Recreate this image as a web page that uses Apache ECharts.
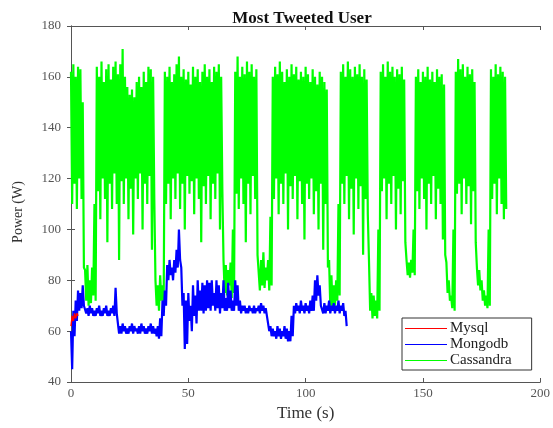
<!DOCTYPE html>
<html>
<head>
    <meta charset="UTF-8">
    <title>Most Tweeted User</title>
    <script src="https://cdn.jsdelivr.net/npm/echarts@6/dist/echarts.min.js"></script>
</head>
<body style="margin:0;background:#fff;">
<div id="main" style="width: 553px;height:428px;"></div>
<script type="text/javascript">
    // values, one high/low pair per second
    var casHigh = [162,165,160,164,163,150,84,86,80,85,110,
        164,160,166,158,163,165,159,164,166,161,165,171,160,156,153,155,152,158,160,156,162,158,164,163,160,
        80,78,82,78,
        162,160,164,158,161,165,168,160,163,159,162,157,164,160,163,158,162,165,160,163,158,164,162,165,160,
        88,86,84,87,100,
        162,168,160,164,161,166,162,165,160,163,
        90,88,91,85,88,105,
        160,164,161,166,162,158,163,160,165,161,164,159,162,160,164,161,158,163,160,157,162,160,158,155,
        88,82,78,80,110,
        162,165,160,166,163,160,164,161,165,160,163,159,
        88,75,74,72,100,
        162,165,160,166,162,164,160,163,161,164,159,
        88,87,88,100,
        160,163,158,162,160,164,159,162,158,163,160,161,157,
        87,80,74,100,
        162,167,163,165,160,164,161,163,158,
        85,84,80,76,74,100,
        163,160,165,161,164,162,160];
    var casLow = [110,118,108,120,112,85,72,70,71,74,72,
        115,104,120,112,95,118,108,122,110,88,119,110,120,104,116,98,120,112,122,100,118,110,121,92,112,
        70,68,72,70,
        110,118,104,120,112,122,108,118,100,121,114,119,106,120,112,95,117,110,121,104,118,112,122,100,116,
        75,74,78,73,75,
        114,108,120,110,95,118,106,121,112,90,
        76,78,77,80,76,78,
        112,120,106,118,110,122,100,117,112,121,104,119,110,96,118,112,120,106,115,100,118,92,110,85,
        70,68,70,72,74,
        118,110,121,104,116,98,120,108,117,90,112,106,
        68,65,66,65,68,
        115,120,104,118,110,121,100,116,106,119,95,
        82,81,83,82,
        115,108,120,112,100,118,110,121,104,116,110,96,90,
        75,72,69,68,
        114,118,106,120,110,117,102,115,95,
        78,76,72,70,69,70,
        112,118,106,120,110,104,108];

    var monHigh = [60,68,72,76,75,78,70,69,70,69,68,69,70,68,69,70,68,69,70,77,
        63,62,63,62,61,62,63,62,61,62,63,62,61,62,63,62,61,62,65,72,
        76,86,88,85,88,92,100,85,75,72,75,70,78,74,80,76,79,78,80,79,
        80,75,80,78,75,80,73,79,76,72,80,78,72,70,70,69,70,69,70,69,
        70,71,70,69,66,62,61,60,62,61,60,62,61,60,66,70,71,70,72,70,
        71,70,72,74,80,82,78,70,71,70,72,70,71,70,72,70,71,68];
    var monLow = [45,58,64,68,69,70,67,66,67,66,66,67,66,66,67,66,66,67,66,67,
        59,59,60,59,59,60,59,60,59,59,60,59,59,60,59,59,58,57,58,66,
        70,80,82,80,83,85,88,70,53,55,64,60,66,63,68,68,67,68,69,68,
        70,68,69,67,69,68,68,69,68,68,70,68,67,68,67,67,68,67,67,68,
        67,68,67,66,60,58,58,57,58,57,58,57,56,56,58,67,68,67,68,67,
        68,67,68,68,72,74,70,67,67,68,67,68,67,68,67,68,66,62];

    var mysqlTime = [0, 0.5, 1, 1.5, 2, 2.5, 3];
    var mysqlValues = [62, 66, 64, 67, 65, 67, 66];

    var xTicks = [0, 50, 100, 150, 200];
    var yTicks = [40, 60, 80, 100, 120, 140, 160, 180];

    function zigzag(hi, lo) {
        var out = [];
        for (var i = 0; i < hi.length; i++) {
            out.push([i, hi[i]]);
            if (i < lo.length) out.push([i + 0.5, lo[i]]);
        }
        return out;
    }
    var mysqlData = mysqlTime.map(function (t, i) { return [t, mysqlValues[i]]; });

    var serif = '"Liberation Serif", "DejaVu Serif", serif';
    var axisLine = { show: true, lineStyle: { color: '#555', width: 1 } };
    var axisTick = { show: true, inside: true, length: 4, lineStyle: { color: '#555' } };

    var myChart = echarts.init(document.getElementById('main'));
    var option = {
        animation: false,
        backgroundColor: '#fff',
        title: {
            text: 'Most Tweeted User',
            left: 297,
            top: 5,
            textAlign: 'center',
            textStyle: { fontFamily: serif, fontSize: 17, fontWeight: 'bold', color: '#111' }
        },
        legend: {
            orient: 'vertical',
            left: 402,
            top: 318,
            itemWidth: 42,
            itemHeight: 1,
            itemGap: 1,
            icon: 'rect',
            padding: [3, 20, 2, 3],
            borderColor: '#333',
            borderWidth: 1,
            backgroundColor: '#fff',
            textStyle: { fontFamily: serif, fontSize: 15, color: '#222', padding: [0, 0, 0, -2] },
            data: ['Mysql', 'Mongodb', 'Cassandra']
        },
        grid: { left: 71, right: 10, top: 26, bottom: 46 },
        xAxis: [{
            type: 'value',
            min: xTicks[0],
            max: xTicks[xTicks.length - 1],
            interval: 50,
            name: 'Time (s)',
            nameLocation: 'middle',
            nameGap: 21,
            nameTextStyle: { fontFamily: serif, fontSize: 17, color: '#333' },
            axisLine: axisLine,
            axisTick: axisTick,
            axisLabel: { fontFamily: serif, fontSize: 13, color: '#555', margin: 5 },
            splitLine: { show: false }
        }, {
            type: 'value',
            position: 'top',
            min: xTicks[0],
            max: xTicks[xTicks.length - 1],
            interval: 50,
            axisLine: axisLine,
            axisTick: axisTick,
            axisLabel: { show: false },
            splitLine: { show: false }
        }],
        yAxis: [{
            type: 'value',
            min: yTicks[0],
            max: yTicks[yTicks.length - 1],
            interval: 20,
            name: 'Power (W)',
            nameLocation: 'middle',
            nameGap: 46,
            nameTextStyle: { fontFamily: serif, fontSize: 14, color: '#333', padding: [0, 0, 0, -16] },
            axisLine: axisLine,
            axisTick: axisTick,
            axisLabel: { fontFamily: serif, fontSize: 13, color: '#555', margin: 10 },
            splitLine: { show: false }
        }, {
            type: 'value',
            position: 'right',
            min: yTicks[0],
            max: yTicks[yTicks.length - 1],
            interval: 20,
            axisLine: axisLine,
            axisTick: axisTick,
            axisLabel: { show: false },
            splitLine: { show: false }
        }],
        series: [{
            name: 'Mysql',
            type: 'line',
            showSymbol: false,
            color: '#ff0000',
            lineStyle: { width: 1.5 },
            data: mysqlData,
            z: 4
        }, {
            name: 'Cassandra',
            type: 'line',
            showSymbol: false,
            color: '#00ff00',
            lineStyle: { width: 2.2 },
            data: zigzag(casHigh, casLow),
            z: 2
        }, {
            name: 'Mongodb',
            type: 'line',
            showSymbol: false,
            color: '#0000ff',
            lineStyle: { width: 2.2 },
            data: zigzag(monHigh, monLow),
            z: 3
        }]
    };
    myChart.setOption(option);
</script>
</body>
</html>
